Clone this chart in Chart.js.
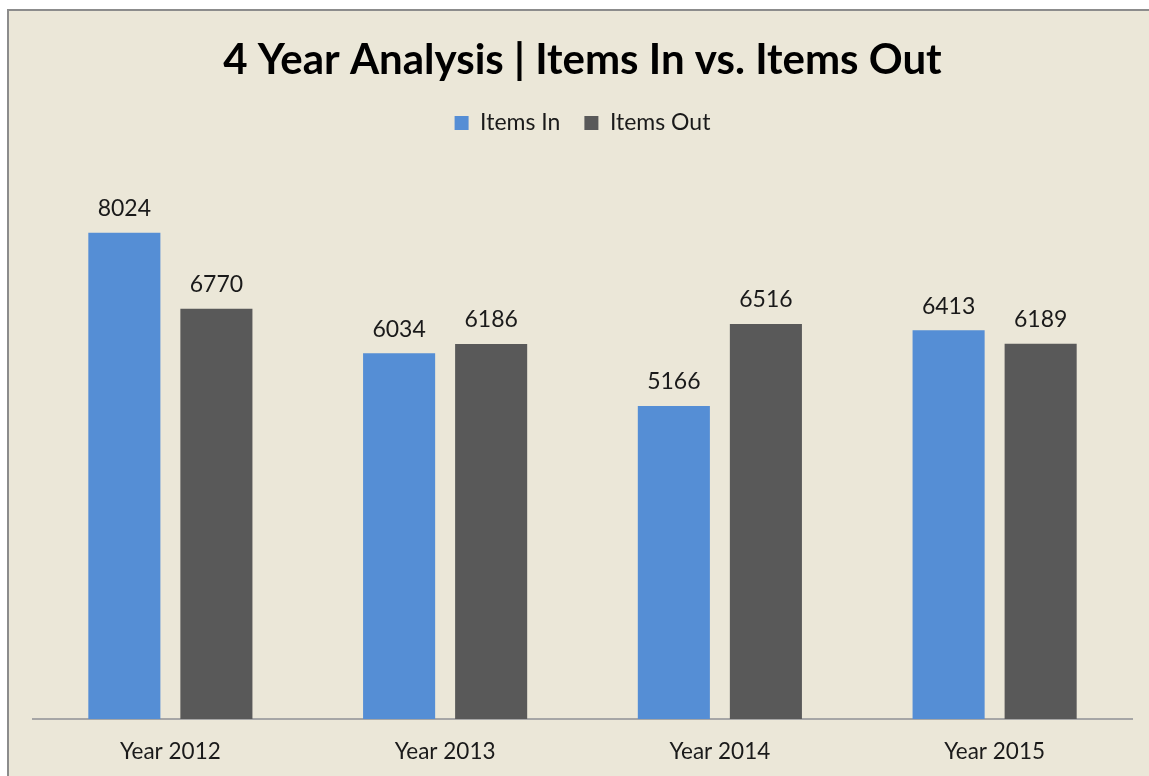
<!DOCTYPE html>
<html lang="en">
<head>
    <meta charset="UTF-8">
    <title>4 Year Analysis</title>
    <script src="https://cdn.jsdelivr.net/npm/chart.js"></script>
    <style>
        body { margin: 0; background: #fff; overflow: hidden; }
        #frame {
            position: absolute; left: 7px; top: 9px;
            width: 1142px; height: 775px;
            border-top: 2px solid #8c8c8c; border-left: 2px solid #8c8c8c;
            background: #ebe7d8;
        }
        #chart-container { width: 1140px; height: 773px; }
    </style>
</head>
<body>
    <div id="frame">
        <div id="chart-container">
            <canvas id="itemsChart"></canvas>
        </div>
    </div>

    <script>
    const years = ['Year 2012', 'Year 2013', 'Year 2014', 'Year 2015'];
    const itemsIn = [8024, 6034, 5166, 6413];
    const itemsOut = [6770, 6186, 6516, 6189];

    const font = "Lato, 'Open Sans', sans-serif";

    // value labels above each bar
    const valueLabels = {
        id: 'valueLabels',
        afterDatasetsDraw(chart) {
            const ctx = chart.ctx;
            ctx.save();
            ctx.font = '23px ' + font;
            ctx.fillStyle = '#1a1a1a';
            ctx.textAlign = 'center';
            ctx.textBaseline = 'middle';
            chart.data.datasets.forEach((ds, i) => {
                chart.getDatasetMeta(i).data.forEach((bar, j) => {
                    ctx.fillText(ds.data[j], bar.x, bar.y - 24);
                });
            });
            ctx.restore();
        }
    };

    new Chart(document.getElementById('itemsChart'), {
        type: 'bar',
        data: {
            labels: years,
            datasets: [
                { label: 'Items In', data: itemsIn, backgroundColor: '#558ed5' },
                { label: 'Items Out', data: itemsOut, backgroundColor: '#595959' }
            ]
        },
        options: {
            responsive: true,
            maintainAspectRatio: false,
            animation: false,
            categoryPercentage: 0.67,
            barPercentage: 0.783,
            layout: { padding: { left: 24, right: 17, top: 24, bottom: 0 } },
            scales: {
                x: {
                    grid: { display: false, drawTicks: false },
                    border: { color: '#a6a6a6', width: 2 },
                    ticks: { color: '#1a1a1a', font: { family: font, size: 22.5 }, padding: 19 }
                },
                y: {
                    display: false,
                    min: 0,
                    max: 9480
                }
            },
            plugins: {
                title: {
                    display: true,
                    text: '4 Year Analysis | Items In vs. Items Out',
                    color: '#000',
                    font: { family: font, size: 42, weight: 'bold' },
                    padding: { top: 0, bottom: 2 }
                },
                legend: {
                    position: 'top',
                    labels: {
                        color: '#1a1a1a',
                        font: { family: font, size: 23 },
                        boxWidth: 14,
                        boxHeight: 14,
                        padding: 24
                    }
                },
                tooltip: { enabled: false }
            }
        },
        plugins: [valueLabels]
    });
    </script>
</body>
</html>
